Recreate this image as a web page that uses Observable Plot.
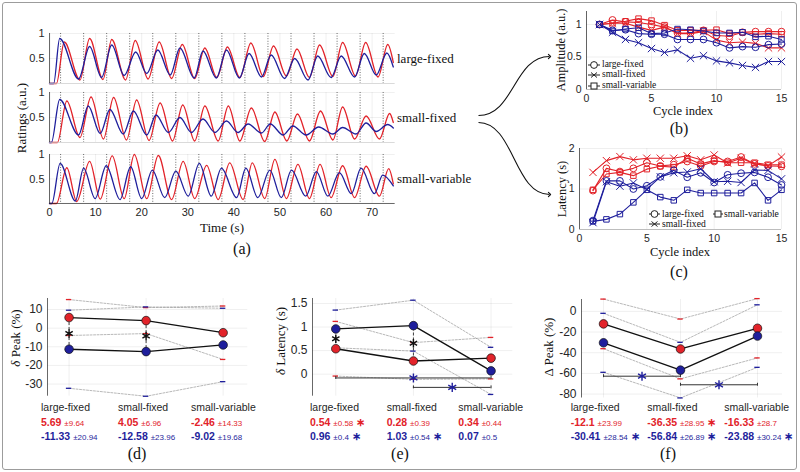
<!DOCTYPE html>
<html><head><meta charset="utf-8">
<script src="https://cdn.jsdelivr.net/npm/d3@7"></script>
<script src="https://cdn.jsdelivr.net/npm/@observablehq/plot@0.6"></script>
<style>
html,body{margin:0;padding:0;background:#fff;}
#fig{position:relative;width:800px;height:472px;overflow:hidden;background:#fff;}
.abs{position:absolute;white-space:nowrap;line-height:1;}
</style></head><body><div id="fig"></div>
<script>
// ---------------- DATA ----------------
const conditions = ["large-fixed", "small-fixed", "small-variable"];

// Panel (a): key points [time (s), rating (a.u.)]
const timeTicks = [0, 10, 20, 30, 40, 50, 60, 70];
const ratingTicks = [0.5, 1];
const cycleOnsets = [2.4, 7.4, 12.4, 17.4, 22.4, 27.4, 32.4, 37.4, 42.4, 47.4, 52.4, 57.4, 62.4, 67.4, 72.4];
const lfRed = [[0,0],[1.5,0],[3.2,0.83],[6.6,0.07],[8.7,0.9],[11.6,0.08],[13.5,0.88],[16.5,0.07],[18.6,0.86],[21.4,0.09],[23.8,0.83],[26.5,0.1],[28.8,0.78],[31.5,0.1],[33.7,0.71],[36.3,0.12],[38.6,0.73],[41.3,0.12],[43.7,0.81],[46.4,0.14],[48.6,0.75],[51.4,0.15],[53.7,0.69],[56.4,0.12],[58.6,0.77],[61.5,0.14],[63.6,0.82],[66.4,0.15],[68.6,0.82],[71.3,0.13],[73.4,0.78],[74.6,0.42]];
const lfBlue = [[0,0],[0.9,0],[2.2,0.9],[6.3,0.09],[8.7,0.74],[11.3,0.12],[13.5,0.77],[16.2,0.16],[18.7,0.63],[21.1,0.2],[23.5,0.67],[26.2,0.17],[28.3,0.71],[31.4,0.11],[33.3,0.65],[36.2,0.11],[38.4,0.67],[41.2,0.11],[43.3,0.6],[46,0.13],[48.1,0.57],[51,0.1],[53.2,0.5],[56.1,0.07],[58.2,0.55],[61.1,0.12],[63.3,0.55],[66.2,0.13],[68.3,0.6],[70.9,0.17],[73.2,0.61],[74.6,0.33]];
const sfRed = [[0,0],[1.7,0],[3.75,0.83],[6.6,0.1],[9,0.91],[11.7,0.07],[13.9,0.9],[16.7,0.05],[18.9,0.85],[21.6,0.04],[24,0.79],[26.7,0.03],[28.9,0.75],[31.5,0.03],[33.7,0.73],[36.6,0.03],[38.8,0.73],[41.3,0.03],[43.8,0.69],[46.7,0.02],[48.9,0.61],[51.5,0.03],[53.8,0.57],[56.4,0.03],[58.8,0.63],[61.5,0.05],[63.6,0.71],[66.2,0.07],[68.7,0.53],[71.6,0.07],[73.8,0.58],[74.6,0.4]];
const sfBlue = [[0,0],[0.4,0],[2.2,0.86],[6.3,0.15],[8.4,0.73],[11,0.18],[13.1,0.66],[16,0.17],[18.2,0.63],[21.1,0.15],[23.1,0.55],[25.8,0.2],[28.3,0.5],[30.8,0.2],[33.3,0.47],[35.9,0.2],[38.4,0.43],[40.9,0.2],[43.1,0.37],[46,0.19],[47.9,0.37],[50.7,0.15],[52.8,0.33],[55.7,0.15],[58.4,0.31],[61.5,0.17],[63.6,0.3],[66.5,0.17],[68.7,0.39],[70.9,0.22],[73.4,0.36],[74.6,0.29]];
const svRed = [[0,0],[1.5,0],[3.75,0.73],[5.9,0.04],[8.7,0.86],[11,0.09],[13.6,0.97],[16.2,0.1],[18.4,1.0],[21.1,0.1],[23.6,0.98],[26.5,0.08],[29,0.86],[31.5,0.1],[34.1,0.78],[36.6,0.08],[39.1,0.83],[42,0.08],[44,0.83],[46.7,0.1],[48.9,0.9],[51.4,0.1],[53.9,0.8],[56.4,0.1],[58.7,0.8],[61.1,0.12],[63.6,0.77],[66.2,0.12],[68.7,0.76],[71.6,0.15],[73.6,0.71],[74.6,0.4]];
const svBlue = [[0,0],[0.5,0],[2.3,0.82],[5.6,0.05],[7.4,0.72],[9.9,0.1],[12.3,0.77],[15.3,0.08],[17.6,0.75],[20,0.1],[22.3,0.68],[25,0.12],[27.4,0.66],[30.1,0.15],[32.5,0.82],[35.1,0.15],[37.3,0.72],[40.6,0.12],[42.6,0.72],[45.2,0.12],[47.8,0.68],[50.3,0.12],[52.5,0.68],[55.6,0.15],[57.9,0.65],[60.4,0.15],[62.9,0.63],[65.5,0.2],[67.6,0.72],[70.5,0.2],[72.3,0.58],[74.6,0.36]];

// Panels (b), (c)
const cycleIndex = [1,2,3,4,5,6,7,8,9,10,11,12,13,14,15];
const cycleTicks = [0, 5, 10, 15];
const ampTicks = [0, 0.5, 1];
const latTicks = [0, 1, 2];
const ampRedLF  = [1,1.07,1.04,1.03,1.0,0.96,0.87,0.87,0.91,0.83,0.82,0.88,0.89,0.89,0.89];
const ampRedSF  = [1,1.02,1.02,0.96,0.91,0.96,0.86,0.86,0.89,0.76,0.72,0.73,0.71,0.64,0.64];
const ampRedSV  = [1,1.02,1.05,1.09,1.06,0.99,0.91,0.91,0.91,0.92,0.86,0.88,0.85,0.86,0.85];
const ampBlueLF = [1,0.91,0.92,0.86,0.85,0.85,0.77,0.77,0.77,0.72,0.64,0.66,0.65,0.69,0.7];
const ampBlueSF = [1,0.88,0.77,0.72,0.63,0.57,0.61,0.48,0.52,0.44,0.41,0.37,0.34,0.43,0.43];
const ampBlueSV = [1,0.9,0.93,0.95,0.86,0.87,0.93,0.92,0.9,0.87,0.87,0.88,0.81,0.82,0.77];
const latRedLF  = [0.96,1.51,1.43,1.51,1.65,1.57,1.6,1.68,1.57,1.68,1.68,1.79,1.62,1.57,1.56];
const latRedSF  = [1.41,1.7,1.8,1.72,1.76,1.76,1.76,1.82,1.72,1.84,1.64,1.76,1.62,1.57,1.79];
const latRedSV  = [0.98,1.37,1.41,1.33,1.49,1.56,1.54,1.76,1.62,1.7,1.65,1.65,1.65,1.6,1.6];
const latBlueLF = [0.22,1.2,1.2,1.0,1.08,1.3,1.46,1.29,1.4,1.16,1.35,1.39,1.41,1.29,1.1];
const latBlueSF = [0.17,1.18,1.07,1.15,0.99,1.3,1.4,1.42,1.5,1.18,1.19,1.16,1.47,1.46,1.25];
const latBlueSV = [0.2,0.25,0.38,0.67,0.98,0.8,0.72,0.98,0.9,0.9,0.9,0.9,1.15,0.72,0.98];

// Panel (d): delta peak (%)
const dRedMean = [5.69, 4.05, -2.46], dRedSd = [9.64, 6.96, 14.33];
const dBlueMean = [-11.33, -12.58, -9.02], dBlueSd = [20.94, 23.96, 19.68];
const dRedSig = [false, false, false], dBlueSig = [false, false, false], dPairSig = [true, true, false];
const dTicks = [-30, -20, -10, 0, 10];
const dBrackets = [];
// Panel (e): delta latency (s)
const eRedMean = [0.54, 0.28, 0.34], eRedSd = [0.58, 0.39, 0.44];
const eBlueMean = [0.96, 1.03, 0.07], eBlueSd = [0.4, 0.54, 0.5];
const eRedSig = [true, false, false], eBlueSig = [true, true, false], ePairSig = [true, true, false];
const eTicks = [0, 0.5, 1, 1.5];
const eBrackets = [{from: 1, to: 3, y: -0.08}, {from: 2, to: 3, y: -0.28}];
// Panel (f): Delta peak (%)
const fRedMean = [-12.1, -36.35, -16.33], fRedSd = [23.99, 28.95, 28.7];
const fBlueMean = [-30.41, -56.84, -23.88], fBlueSd = [28.54, 26.89, 30.24];
const fRedSig = [false, true, false], fBlueSig = [true, true, true], fPairSig = [false, false, false];
const fTicks = [-80, -60, -40, -20, 0];
const fBrackets = [{from: 1, to: 2, y: -62.7}, {from: 2, to: 3, y: -71}];

// Arrow annotations (page pixels)
const arrowLinks = [{x1: 478, y1: 115, x2: 549, y2: 56}, {x1: 478, y1: 122, x2: 549, y2: 194}];

// ---------------- STYLE / LAYOUT ----------------
const SANS = '"Liberation Sans", Arial, Helvetica, sans-serif';
const SERIF = '"Liberation Serif", "Times New Roman", serif';
const RED = "#e2232a", BLUE = "#1f1f9c", AXC = "#262626";
const fig = document.getElementById("fig");

function mount(plot, left, top) {
  plot.style.position = "absolute";
  plot.style.left = left + "px";
  plot.style.top = top + "px";
  fig.appendChild(plot);
  return plot;
}
function addText(html, x, y, o = {}) {
  const d = document.createElement("div");
  d.className = "abs";
  d.innerHTML = html;
  Object.assign(d.style, {left: x + "px", top: y + "px", fontFamily: o.font || SERIF,
    fontSize: (o.size || 13) + "px", color: o.color || "#111", fontWeight: o.weight || "normal"});
  const a = o.anchor || "middle";
  const tx = a === "middle" ? "-50%" : a === "end" ? "-100%" : "0";
  d.style.transform = `translate(${tx},-50%)` + (o.rotate ? ` rotate(${o.rotate}deg)` : "");
  fig.appendChild(d);
  return d;
}
const baseStyle = (size) => ({fontFamily: SANS, fontSize: size + "px", color: AXC, background: "transparent", overflow: "visible"});
const grid = {stroke: "#000", strokeOpacity: 0.09, strokeWidth: 0.7};

// ---------------- PANEL (a) ----------------
const aPanels = [
  {name: conditions[0], red: lfRed, blue: lfBlue, top: 33.3, bottom: 83.3},
  {name: conditions[1], red: sfRed, blue: sfBlue, top: 92.3, bottom: 142.3},
  {name: conditions[2], red: svRed, blue: svBlue, top: 153.5, bottom: 202.5}
];
aPanels.forEach((pn, k) => {
  const last = k === 2;
  const m = {l: 34, r: 6, t: 6, b: last ? 24 : 6};
  const fl = 49.3, fr = 395;
  const marks = [
    Plot.gridX(timeTicks, grid),
    Plot.gridY(ratingTicks, grid),
    Plot.ruleX(cycleOnsets, {stroke: "#444", strokeWidth: 0.8, strokeDasharray: "1,1.6"}),
    Plot.line(pn.red, {x: d => d[0], y: d => d[1], stroke: RED, strokeWidth: 1.3, curve: "monotone-x"}),
    Plot.line(pn.blue, {x: d => d[0], y: d => d[1], stroke: BLUE, strokeWidth: 1.3, curve: "monotone-x"}),
    Plot.ruleX([0], {stroke: AXC, strokeWidth: 0.7}),
    Plot.ruleY([0], {stroke: last ? AXC : "#c8c8c8", strokeWidth: 0.7}),
    Plot.axisY(ratingTicks, {tickSize: 0, tickPadding: 5, label: null, tickFormat: d => String(d)})
  ];
  if (last) marks.push(Plot.axisX(timeTicks, {tickSize: 0, tickPadding: 5, label: null, tickFormat: d => String(d)}));
  const p = Plot.plot({
    width: fr - fl + m.l + m.r, height: pn.bottom - pn.top + m.t + m.b,
    marginLeft: m.l, marginRight: m.r, marginTop: m.t, marginBottom: m.b,
    style: baseStyle(11),
    x: last ? {domain: [0, 75]} : {domain: [0, 75], axis: null},
    y: {domain: [0, 1]},
    marks
  });
  mount(p, fl - m.l, pn.top - m.t);
  addText(pn.name, 397, (pn.top + pn.bottom) / 2, {anchor: "start", size: 13});
});
addText("Ratings (a.u.)", 21, 118, {rotate: -90, size: 13});
addText("Time (s)", 222, 227, {size: 13});
addText("(a)", 242, 249, {size: 16});

// ---------------- PANELS (b), (c) ----------------
function cyclePanel(o) {
  const m = {l: 30, r: 6, t: 4, b: 22};
  const series = [
    {v: o.redLF, c: RED, s: "circle", r: 3.4}, {v: o.redSF, c: RED, s: "times", r: 3.4}, {v: o.redSV, c: RED, s: "square", r: 3.1},
    {v: o.blueLF, c: BLUE, s: "circle", r: 3.4}, {v: o.blueSF, c: BLUE, s: "times", r: 3.4}, {v: o.blueSV, c: BLUE, s: "square", r: 3.1}
  ];
  const marks = [Plot.gridX(cycleTicks, grid), Plot.gridY(o.ticks, grid)];
  for (const s of series) {
    const rows = cycleIndex.map((x, i) => ({x, y: s.v[i]}));
    marks.push(Plot.line(rows, {x: "x", y: "y", stroke: s.c, strokeWidth: 1.1}));
    marks.push(Plot.dot(rows, {x: "x", y: "y", symbol: s.s, r: s.r, stroke: s.c, fill: "none", strokeWidth: 1}));
  }
  marks.push(
    Plot.ruleX([0], {stroke: AXC, strokeWidth: 0.7}),
    Plot.ruleY([0], {stroke: AXC, strokeWidth: 0.5, strokeOpacity: 0.5}),
    Plot.axisY(o.ticks, {tickSize: 0, tickPadding: 5, label: null, tickFormat: d => String(d)}),
    Plot.axisX(cycleTicks, {tickSize: 0, tickPadding: 5, label: null, tickFormat: d => String(d)})
  );
  const p = Plot.plot({
    width: o.fr - o.fl + m.l + m.r, height: o.fb - o.ft + m.t + m.b,
    marginLeft: m.l, marginRight: m.r, marginTop: m.t, marginBottom: m.b,
    style: baseStyle(10.5),
    x: {domain: [0, 15]}, y: {domain: o.yDomain},
    marks
  });
  mount(p, o.fl - m.l, o.ft - m.t);
}
cyclePanel({fl: 586, fr: 781, ft: 11.3, fb: 89.3, yDomain: [0, 1.2], ticks: ampTicks,
  redLF: ampRedLF, redSF: ampRedSF, redSV: ampRedSV, blueLF: ampBlueLF, blueSF: ampBlueSF, blueSV: ampBlueSV});
cyclePanel({fl: 579, fr: 781, ft: 148.3, fb: 229.3, yDomain: [0, 2], ticks: latTicks,
  redLF: latRedLF, redSF: latRedSF, redSV: latRedSV, blueLF: latBlueLF, blueSF: latBlueSF, blueSV: latBlueSV});

function legendIcon(x1, x2, y, sym) {
  const w = x2 - x1, cx = w / 2;
  const svg = document.createElementNS("http://www.w3.org/2000/svg", "svg");
  svg.setAttribute("width", w + 2); svg.setAttribute("height", 10);
  svg.style.position = "absolute"; svg.style.left = (x1 - 1) + "px"; svg.style.top = (y - 5) + "px";
  let mk = "";
  if (sym === "circle") mk = `<circle cx="${cx + 1}" cy="5" r="3.4" fill="#fff" stroke="#222" stroke-width="1"/>`;
  if (sym === "square") mk = `<rect x="${cx - 2}" y="2" width="6" height="6" fill="#fff" stroke="#222" stroke-width="1"/>`;
  if (sym === "times") mk = `<path d="M${cx - 2} 2.5L${cx + 4} 7.5M${cx - 2} 7.5L${cx + 4} 2.5" stroke="#222" stroke-width="1"/>`;
  svg.innerHTML = `<line x1="1" x2="${w + 1}" y1="5" y2="5" stroke="#222" stroke-width="1"/>` + mk;
  fig.appendChild(svg);
}
// legend (b)
[[conditions[0], "circle", 64.7], [conditions[1], "times", 75.3], [conditions[2], "square", 86.3]].forEach(([t, s, y]) => {
  legendIcon(588, 600, y, s);
  addText(t, 602, y, {anchor: "start", size: 9.5});
});
// legend (c)
legendIcon(649, 660, 213.7, "circle"); addText(conditions[0], 662, 213.7, {anchor: "start", size: 9.6});
legendIcon(712.5, 722.5, 213.7, "square"); addText(conditions[2], 724, 213.7, {anchor: "start", size: 9.6});
legendIcon(649, 660, 224, "times"); addText(conditions[1], 662, 224, {anchor: "start", size: 9.6});

addText("Amplitude (a.u.)", 561, 50, {rotate: -90, size: 12.5});
addText("Cycle index", 683, 111, {size: 12.5});
addText("(b)", 679, 129.3, {size: 16});
addText("Latency (s)", 562, 189, {rotate: -90, size: 12.5});
addText("Cycle index", 680, 251.7, {size: 12.5});
addText("(c)", 679, 271.7, {size: 16});

// ---------------- PANELS (d), (e), (f) ----------------
function statPanel(o) {
  const m = {l: 40, r: 6, t: 4, b: 4};
  const cats = [1, 2, 3];
  const rows = cats.map((x, i) => ({x, rm: o.redMean[i], rs: o.redSd[i], bm: o.blueMean[i], bs: o.blueSd[i], pair: o.pairSig[i]}));
  const span = o.yDomain[1] - o.yDomain[0];
  const tw = 0.035;
  const env = {stroke: "#9a9a9a", strokeWidth: 0.7, strokeDasharray: "2,1.5"};
  const sdTick = (fy, c) => Plot.ruleY(rows, {y: fy, x1: d => d.x - tw, x2: d => d.x + tw, stroke: c, strokeWidth: 1.3});
  const ends = o.brackets.flatMap(b => [{x: b.from, y: b.y}, {x: b.to, y: b.y}]);
  const marks = [
    Plot.gridX(cats, grid),
    Plot.gridY(o.ticks, grid),
    Plot.line(rows, {x: "x", y: d => d.rm + d.rs, ...env}),
    Plot.line(rows, {x: "x", y: d => d.rm - d.rs, ...env}),
    Plot.line(rows, {x: "x", y: d => d.bm + d.bs, ...env}),
    Plot.line(rows, {x: "x", y: d => d.bm - d.bs, ...env}),
    sdTick(d => d.rm + d.rs, RED), sdTick(d => d.rm - d.rs, RED),
    sdTick(d => d.bm + d.bs, BLUE), sdTick(d => d.bm - d.bs, BLUE),
    Plot.ruleX(rows.filter(d => d.pair), {x: "x", y1: "rm", y2: "bm", stroke: "#111", strokeWidth: 0.8, strokeDasharray: "3,2"}),
    Plot.ruleY(o.brackets, {y: "y", x1: "from", x2: "to", stroke: "#333", strokeWidth: 1}),
    Plot.ruleX(ends, {x: "x", y1: d => d.y - span * 0.015, y2: d => d.y + span * 0.015, stroke: "#333", strokeWidth: 1}),
    Plot.dot(o.brackets, {x: d => (d.from + d.to) / 2, y: "y", symbol: "asterisk", r: 4.3, stroke: BLUE, strokeWidth: 1.4}),
    Plot.line(rows, {x: "x", y: "rm", stroke: "#111", strokeWidth: 1.3}),
    Plot.line(rows, {x: "x", y: "bm", stroke: "#111", strokeWidth: 1.3}),
    Plot.dot(rows, {x: "x", y: "rm", r: 4.3, fill: RED, stroke: "#111", strokeWidth: 0.7}),
    Plot.dot(rows, {x: "x", y: "bm", r: 4.3, fill: BLUE, stroke: "#111", strokeWidth: 0.7}),
    Plot.dot(rows.filter(d => d.pair), {x: "x", y: d => (d.rm + d.bm) / 2, symbol: "asterisk", r: 4, stroke: "#111", strokeWidth: 1.4}),
    Plot.ruleX([o.xDomain[0]], {stroke: AXC, strokeWidth: 0.7}),
    Plot.axisY(o.ticks, {tickSize: 0, tickPadding: 5, label: null, tickFormat: d => String(d)})
  ];
  const p = Plot.plot({
    width: o.fr - o.fl + m.l + m.r, height: o.fb - o.ft + m.t + m.b,
    marginLeft: m.l, marginRight: m.r, marginTop: m.t, marginBottom: m.b,
    style: baseStyle(12),
    x: {domain: o.xDomain, axis: null}, y: {domain: o.yDomain},
    marks
  });
  mount(p, o.fl - m.l, o.ft - m.t);
  const val = (mean, sd, sig) => `<b>${mean}</b> <span style="font-size:8px">\u00b1${sd}</span>` + (sig ? ` <b style="font-size:11px">\u2217</b>` : "");
  conditions.forEach((c, i) => {
    const left = o.colLeft[i];
    addText(c, left, 407.3, {font: SANS, size: 10.5, anchor: "start", color: AXC});
    addText(val(o.redMean[i], o.redSd[i], o.redSig[i]), left, 421.7, {font: SANS, size: 10.5, anchor: "start", color: RED});
    addText(val(o.blueMean[i], o.blueSd[i], o.blueSig[i]), left, 435.7, {font: SANS, size: 10.5, anchor: "start", color: BLUE});
  });
  addText(o.ylabel, o.ylabelX, o.ylabelY, {rotate: -90, size: 13});
  addText(o.tag, o.tagX, 453.5, {size: 16});
}
statPanel({fl: 46.7, fr: 247, ft: 298.3, fb: 396, xDomain: [0.72, 3.32], yDomain: [-36.5, 15.9], ticks: dTicks,
  redMean: dRedMean, redSd: dRedSd, blueMean: dBlueMean, blueSd: dBlueSd, redSig: dRedSig, blueSig: dBlueSig, pairSig: dPairSig,
  brackets: dBrackets, colLeft: [41, 118, 191], ylabel: "<i>\u03b4</i> Peak (%)", ylabelX: 15, ylabelY: 337.5, tag: "(d)", tagX: 137});
statPanel({fl: 311.7, fr: 512, ft: 298.3, fb: 396, xDomain: [0.70, 3.28], yDomain: [-0.467, 1.606], ticks: eTicks,
  redMean: eRedMean, redSd: eRedSd, blueMean: eBlueMean, blueSd: eBlueSd, redSig: eRedSig, blueSig: eBlueSig, pairSig: ePairSig,
  brackets: eBrackets, colLeft: [310, 386.7, 458.3], ylabel: "<i>\u03b4</i> Latency (s)", ylabelX: 280, ylabelY: 341, tag: "(e)", tagX: 400});
statPanel({fl: 580.7, fr: 781.7, ft: 299, fb: 397.5, xDomain: [0.714, 3.325], yDomain: [-83.8, 11.5], ticks: fTicks,
  redMean: fRedMean, redSd: fRedSd, blueMean: fBlueMean, blueSd: fBlueSd, redSig: fRedSig, blueSig: fBlueSig, pairSig: fPairSig,
  brackets: fBrackets, colLeft: [570.7, 647.3, 724.3], ylabel: "\u0394 Peak (%)", ylabelX: 548.3, ylabelY: 346.5, tag: "(f)", tagX: 668});

// ---------------- ARROWS ----------------
const arrows = Plot.plot({
  width: 800, height: 472, margin: 0,
  style: {background: "transparent", overflow: "visible"},
  x: {domain: [0, 800], range: [0, 800], axis: null},
  y: {domain: [0, 472], range: [0, 472], axis: null},
  marks: [Plot.link(arrowLinks, {x1: "x1", y1: "y1", x2: "x2", y2: "y2", curve: "bump-x", markerEnd: "arrow", stroke: "#111", strokeWidth: 1.1})]
});
arrows.style.pointerEvents = "none";
mount(arrows, 0, 0);

// ---------------- BORDER ----------------
const border = document.createElement("div");
Object.assign(border.style, {position: "absolute", left: "2px", top: "2px", width: "795px", height: "468px",
  boxSizing: "border-box", border: "1.5px solid #9c9c9c", borderRadius: "3px", pointerEvents: "none"});
fig.appendChild(border);
</script></body></html>
